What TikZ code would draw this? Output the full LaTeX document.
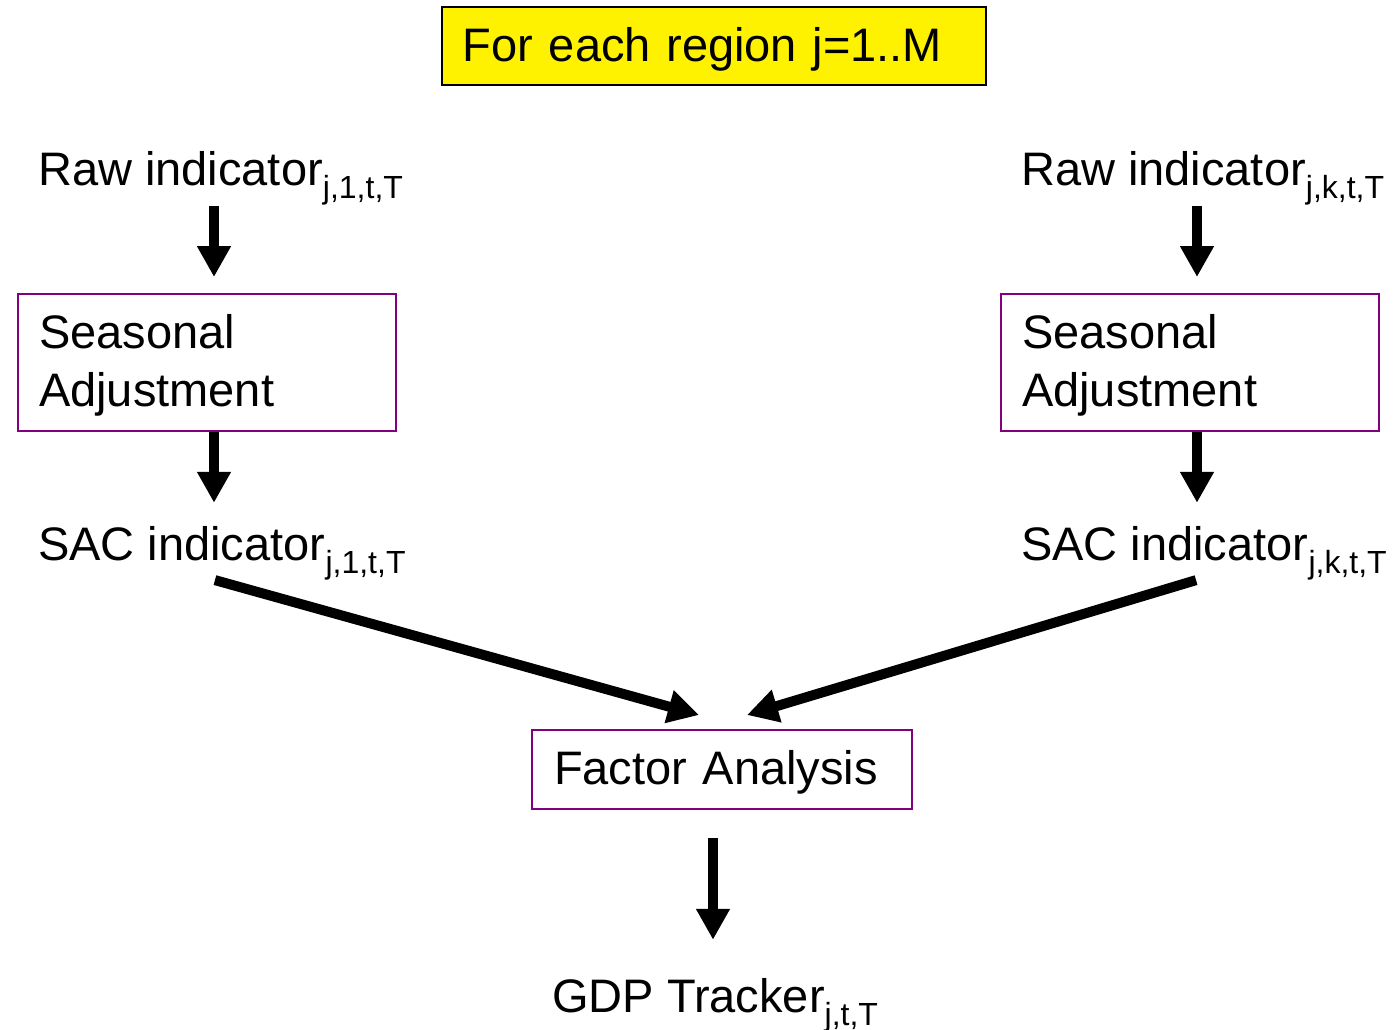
\documentclass[tikz,border=0pt]{standalone}
\usepackage{fontspec}
\setmainfont{Liberation Sans}
\usetikzlibrary{arrows.meta,calc}
\definecolor{boxpurple}{RGB}{128,0,128}
\newcommand{\bigtxt}{\fontsize{47}{58}\selectfont}
\newcommand{\idx}[1]{\raisebox{-13pt}{\fontsize{32}{32}\selectfont #1}}
\newcommand{\padtop}{\rule{0pt}{40.5pt}}

\begin{document}
\begin{tikzpicture}[x=1pt,y=-1pt,
    lbl/.style={inner sep=0pt,font=\bigtxt,anchor=base west},
    stagebox/.style={draw=boxpurple,line width=2pt,anchor=north west,
      inner xsep=21pt,inner ysep=0pt,align=left,font=\bigtxt},
    bigarrow/.style={line width=10pt,-{Triangle[length=31pt,width=32pt]}}]
  \useasboundingbox (0,0) rectangle (1397,1029);
  % header
  \node[draw=black,line width=1.5pt,fill=yellow,anchor=north west,
    minimum height=78pt,inner xsep=21pt,inner ysep=0pt,text width=502pt,align=left,
    font=\bigtxt] (head) at (441,6) {\padtop For each region j=1..M};
  % one column per indicator
  \foreach \c/\dx in {1/0,k/983}{
    \coordinate (col\c) at (214+\dx,0);
    \node[lbl] (raw\c) at (38+\dx,185) {Raw indicator\idx{j,\c,t,T}};
    \node[stagebox,text width=336pt,minimum height=137pt] (sa\c) at (17+\dx,293)
      {\padtop Seasonal\\Adjustment};
    \node[lbl] (sac\c) at (38+\dx,560) {SAC indicator\idx{j,\c,t,T}};
    \draw[bigarrow,shorten <=1pt,shorten >=16pt] (raw\c.south -| col\c) -- (sa\c.north -| col\c);
    \draw[bigarrow,shorten >=23pt] (sa\c.south -| col\c) -- (sac\c.north -| col\c);
  }
  % factor step
  \node[stagebox,text width=336pt,minimum height=79pt,inner xsep=22pt] (fa) at (531,729)
    {\padtop Factor Analysis};
  \coordinate (colF) at (713,0);
  \node[lbl] (gdp) at (552,1012) {GDP Tracker\idx{j,t,T}};
  \draw[bigarrow,shorten <=1pt] (sac1.south -| col1) -- ($(fa.north)+(-23,-14)$);
  \draw[bigarrow,shorten <=1pt] (sack.south -| colk) -- ($(fa.north)+(25,-14)$);
  \draw[bigarrow,shorten <=28pt,shorten >=38pt] (fa.south -| colF) -- (gdp.north -| colF);
\end{tikzpicture}
\end{document}
